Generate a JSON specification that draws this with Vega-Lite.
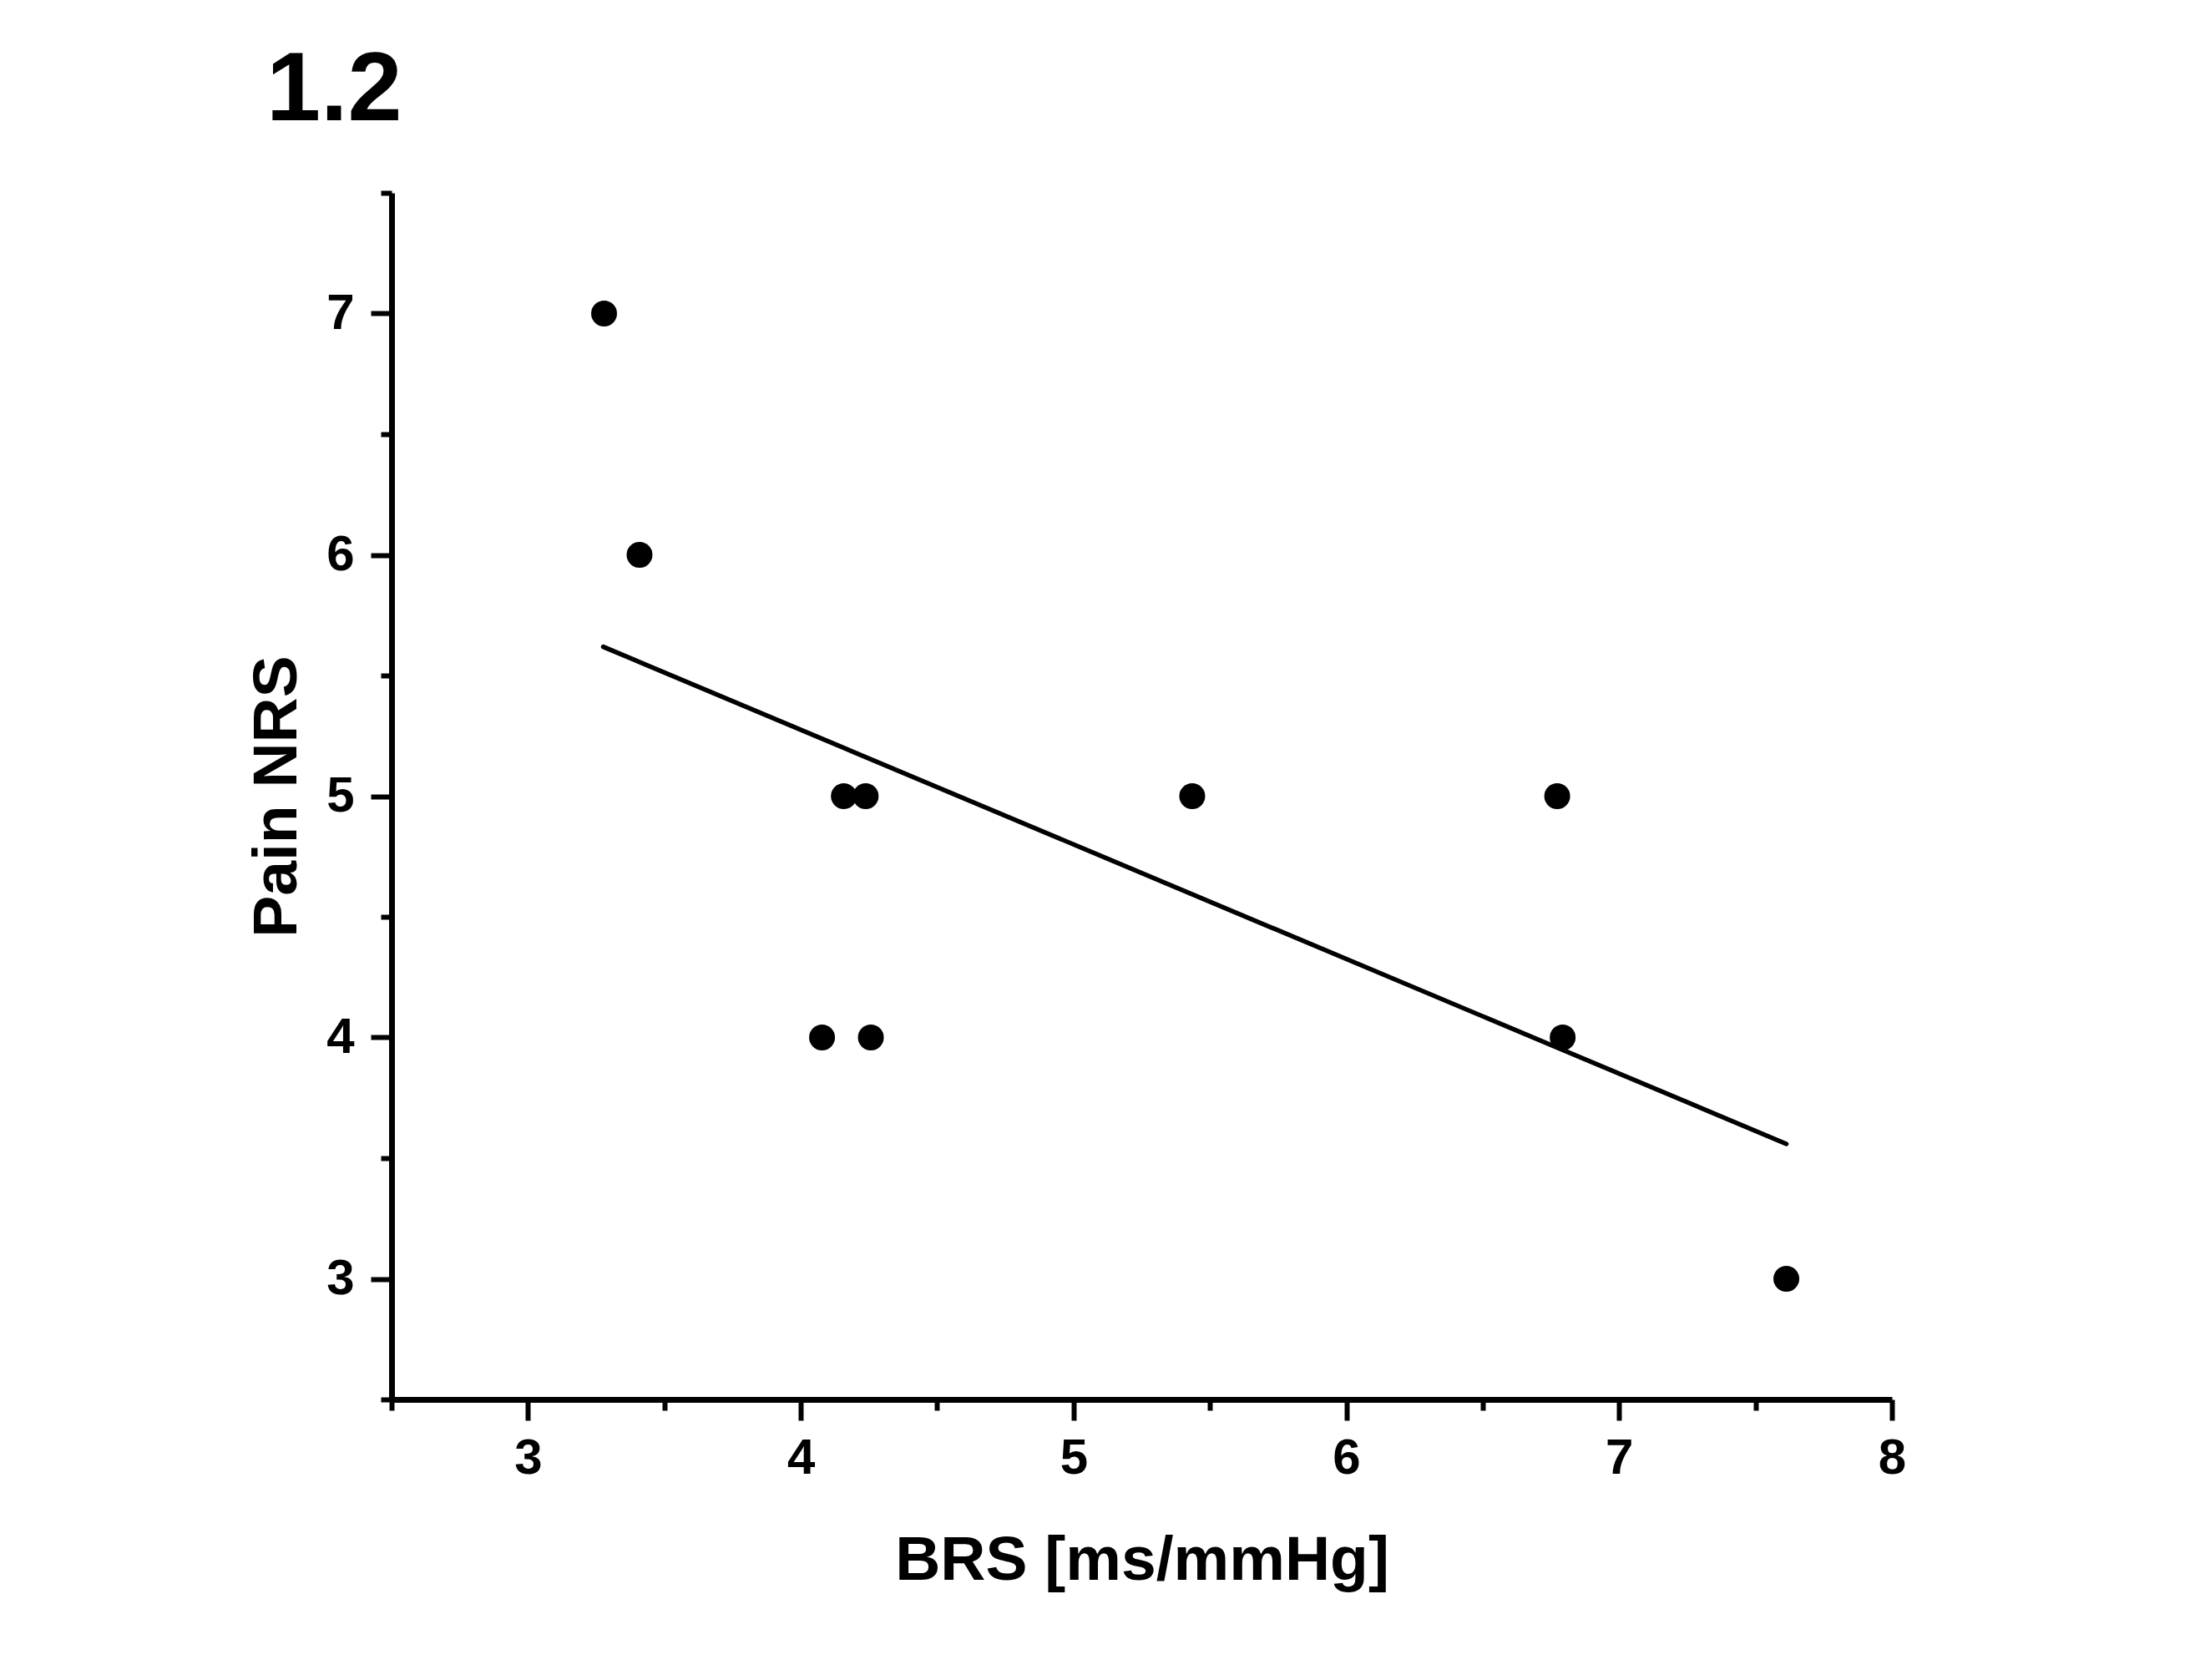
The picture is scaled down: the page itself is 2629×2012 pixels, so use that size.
{
  "$schema": "https://vega.github.io/schema/vega-lite/v6.json",
  "autosize": "none",
  "width": 1797,
  "height": 1445,
  "padding": {"left": 469, "top": 231, "right": 363, "bottom": 336},
  "background": "white",
  "config": {
    "view": {"stroke": null},
    "font": "Liberation Sans",
    "axis": {
      "labelFont": "Liberation Sans",
      "labelFontWeight": "bold",
      "labelFontSize": 60,
      "labelColor": "black",
      "titleFont": "Liberation Sans",
      "titleFontWeight": "bold",
      "titleFontSize": 75,
      "titleColor": "black",
      "domainColor": "black",
      "domainWidth": 7,
      "tickColor": "black",
      "tickWidth": 6,
      "grid": false
    }
  },
  "title": {
    "text": "1.2",
    "anchor": "start",
    "frame": "group",
    "dx": -150,
    "dy": 60,
    "offset": 0,
    "baseline": "alphabetic",
    "font": "Liberation Sans",
    "fontSize": 117,
    "fontWeight": "bold",
    "color": "black"
  },
  "datasets": {
    "points": [
      {"BRS": 3.279, "NRS": 7},
      {"BRS": 3.409, "NRS": 6},
      {"BRS": 4.158, "NRS": 5},
      {"BRS": 4.238, "NRS": 5},
      {"BRS": 5.435, "NRS": 5},
      {"BRS": 6.773, "NRS": 5},
      {"BRS": 4.078, "NRS": 4},
      {"BRS": 4.257, "NRS": 4},
      {"BRS": 6.793, "NRS": 4},
      {"BRS": 7.613, "NRS": 3}
    ],
    "fit": [
      {"BRS": 3.276, "NRS": 5.619},
      {"BRS": 7.613, "NRS": 3.559}
    ]
  },
  "layer": [
    {
      "data": {"name": "fit"},
      "mark": {"type": "line", "color": "black", "strokeWidth": 5.5, "strokeCap": "round", "clip": false},
      "encoding": {
        "x": {
          "field": "BRS", "type": "quantitative",
          "scale": {"domain": [2.5, 8], "nice": false, "zero": false},
          "axis": {
            "title": "BRS [ms/mmHg]",
            "values": [2.5, 3, 3.5, 4, 4.5, 5, 5.5, 6, 6.5, 7, 7.5, 8],
            "labelExpr": "datum.value % 1 === 0 ? format(datum.value, 'd') : ''",
            "tickSize": {"condition": {"test": "datum.value % 1 !== 0", "value": 13}, "value": 25},
            "labelPadding": 16,
            "titlePadding": 56,
            "labelFlush": false,
            "labelOverlap": false
          }
        },
        "y": {
          "field": "NRS", "type": "quantitative",
          "scale": {"domain": [2.5, 7.5], "nice": false, "zero": false},
          "axis": {
            "title": "Pain NRS",
            "values": [2.5, 3, 3.5, 4, 4.5, 5, 5.5, 6, 6.5, 7, 7.5],
            "labelExpr": "datum.value % 1 === 0 ? format(datum.value, 'd') : ''",
            "tickSize": {"condition": {"test": "datum.value % 1 !== 0", "value": 13}, "value": 25},
            "labelPadding": 20,
            "titlePadding": 20,
            "labelFlush": false,
            "labelOverlap": false
          }
        }
      }
    },
    {
      "data": {"name": "points"},
      "mark": {"type": "circle", "color": "black", "opacity": 1, "size": 960},
      "encoding": {
        "x": {"field": "BRS", "type": "quantitative"},
        "y": {"field": "NRS", "type": "quantitative"}
      }
    }
  ]
}
